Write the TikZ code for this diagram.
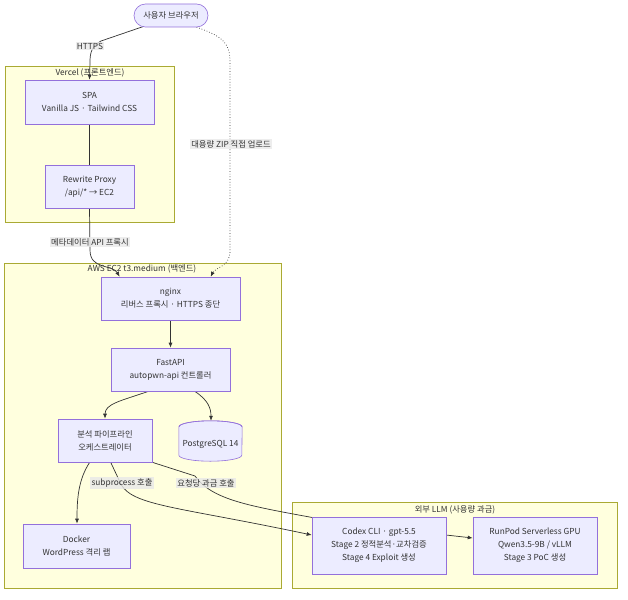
\documentclass[tikz,border=0pt]{standalone}
\usepackage{fontspec}
\setmainfont{Noto Sans CJK KR}
\usetikzlibrary{arrows.meta,calc,backgrounds}
\definecolor{nodefill}{HTML}{ECECFF}
\definecolor{nodeline}{HTML}{9370DB}
\definecolor{clfill}{HTML}{FFFFDE}
\definecolor{clline}{HTML}{AAAA33}
\definecolor{edgecol}{HTML}{333333}
\definecolor{lblbg}{HTML}{E8E8E8}
\pgfdeclarelayer{clusters}
\pgfdeclarelayer{edges}
\pgfsetlayers{clusters,edges,main}
\tikzset{
  box/.style={draw=nodeline, fill=nodefill, line width=0.6pt, inner sep=0pt, align=center, text=edgecol, font=\fontsize{8.3}{13}\selectfont},
  cluster/.style={draw=clline, fill=clfill, line width=0.6pt},
  cltitle/.style={text=edgecol, font=\fontsize{8.3}{9}\selectfont, inner sep=1pt},
  conn/.style={draw=edgecol, line width=0.7pt},
  arr/.style={conn, -{Latex[length=5pt,width=4pt]}},
  elabel/.style={fill=lblbg, fill opacity=0.8, text opacity=1, text=edgecol, font=\fontsize{8.3}{9}\selectfont, inner sep=1.2pt}
}
\begin{document}
\begin{tikzpicture}[x=1pt,y=-1pt]
\useasboundingbox (0,0) rectangle (628,599);
% nodes
\node[box, minimum width=74pt, minimum height=23pt, rounded corners=11.5pt] (browser) at (171,15.5) {사용자 브라우저};
\node[box, minimum width=129pt, minimum height=44pt] (spa) at (89.5,102) {SPA\\Vanilla JS · Tailwind CSS};
\node[box, minimum width=89pt, minimum height=43pt] (rewrite) at (89.5,186.5) {Rewrite Proxy\\/api/* → EC2};
\node[box, minimum width=139pt, minimum height=43pt] (nginx) at (170.5,298.5) {nginx\\리버스 프록시 · HTTPS 종단};
\node[box, minimum width=119pt, minimum height=43pt] (fastapi) at (170.5,369.5) {FastAPI\\autopwn-api 컨트롤러};
\node[box, minimum width=94pt, minimum height=43pt] (orch) at (105,440.5) {분석 파이프라인\\오케스트레이터};
\node[box, minimum width=107pt, minimum height=44pt] (docker) at (76.5,546) {Docker\\WordPress 격리 랩};
\node[box, minimum width=134pt, minimum height=57pt] (codex) at (379,545.5) {Codex CLI · gpt-5.5\\Stage 2 정적분석·교차검증\\Stage 4 Exploit 생성};
\node[box, minimum width=124pt, minimum height=57pt] (runpod) at (535,545.5) {RunPod Serverless GPU\\Qwen3.5-9B / vLLM\\Stage 3 PoC 생성};
% database cylinder
\node[inner sep=0pt, minimum width=63pt, minimum height=40pt] (db) at (210.5,441) {};
\fill[nodefill] ($(db.north west)+(0,6)$) -- ($(db.south west)+(0,-6)$) arc[start angle=180,end angle=360,x radius=31.5pt,y radius=6pt] -- ($(db.north east)+(0,6)$) arc[start angle=0,end angle=180,x radius=31.5pt,y radius=6pt] -- cycle;
\draw[nodeline, line width=0.6pt] ($(db.north west)+(0,6)$) -- ($(db.south west)+(0,-6)$) arc[start angle=180,end angle=360,x radius=31.5pt,y radius=6pt] -- ($(db.north east)+(0,6)$) arc[start angle=0,end angle=-180,x radius=31.5pt,y radius=-6pt];
\draw[nodeline, line width=0.6pt] ($(db.north west)+(0,6)$) arc[start angle=180,end angle=360,x radius=31.5pt,y radius=-6pt];
\node[text=edgecol, font=\fontsize{8.3}{9}\selectfont] (dblabel) at ($(db.center)+(0,3)$) {PostgreSQL 14};
% clusters
\begin{pgfonlayer}{clusters}
\draw[cluster] (5,66) rectangle (174,222);
\draw[cluster] (4,263) rectangle (281,588);
\draw[cluster] (292,502) rectangle (617,588);
\end{pgfonlayer}
\node[cltitle] (tvercel) at (90,73) {Vercel (프론트엔드)};
\node[cltitle] (taws) at (142,269) {AWS EC2 t3.medium (백엔드)};
\node[cltitle] (tllm) at (455,510) {외부 LLM (사용량 과금)};
% edges
\begin{pgfonlayer}{edges}
\draw[arr] ($(browser.south)+(-27,-1)$) -- (101,41) .. controls (92,46) and (90,52) .. (90,62) -- (spa.north);
\draw[conn] (spa) -- (rewrite);
\draw[arr] (rewrite.south) -- (90,250) .. controls (90,270) and (112,264) .. ($(nginx.north west)+(19,0)$);
\draw[arr, dotted] ($(browser.south)+(23,-1)$) .. controls (222,36) and (230,42) .. (230,62) -- (230,252) .. controls (230,266) and (215,268) .. ($(nginx.north west)+(110,0)$);
\draw[arr] (nginx) -- (fastapi);
\draw[arr] ($(fastapi.south west)+(38,0)$) .. controls (120,401) and (105,404) .. (orch.north);
\draw[arr] ($(fastapi.south west)+(84,0)$) .. controls (208,400) and (211,408) .. ($(db.north)+(0.5,0)$);
\draw[arr] ($(orch.south west)+(32,0)$) .. controls (78,480) and (77,500) .. ($(docker.north)+(0.5,0)$);
\draw[arr] ($(orch.south west)+(53,0)$) -- (119,480) .. controls (128,506) and (170,505) .. ($(codex.west)+(0,-10.5)$);
\draw[arr] (orch.south east) -- (195,476) .. controls (212,500) and (250,506) .. (315,518) -- (446,535) -- ($(runpod.west)+(0,-7.5)$);
\end{pgfonlayer}
% edge labels
\node[elabel] (l1) at (90,46) {HTTPS};
\node[elabel] (l2) at (90,242) {메타데이터 API 프록시};
\node[elabel] (l3) at (231,144) {대용량 ZIP 직접 업로드};
\node[elabel] (l4) at (122,483) {subprocess 호출};
\node[elabel] (l5) at (206,483) {요청당 과금 호출};
\end{tikzpicture}
\end{document}
